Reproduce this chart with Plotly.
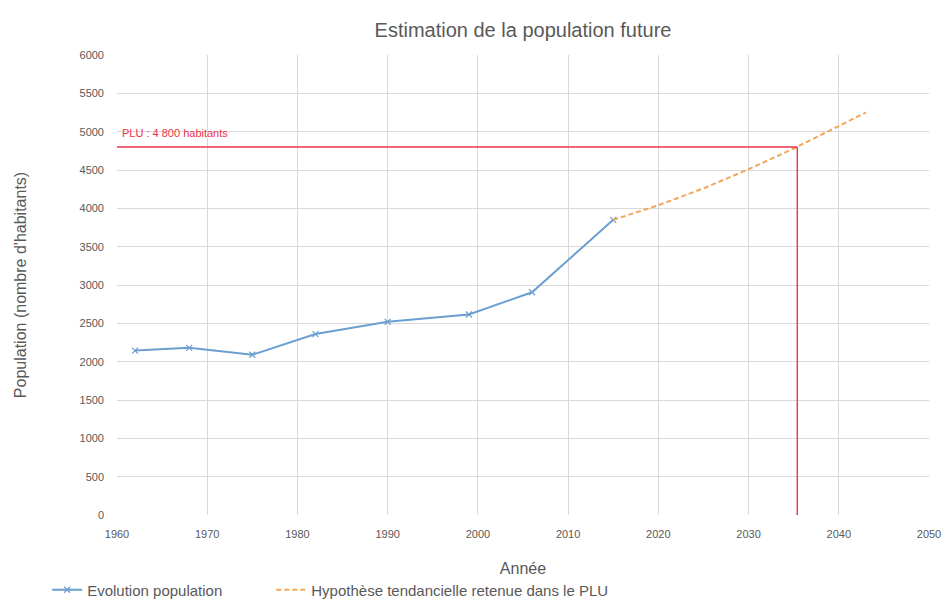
import plotly.graph_objects as go

years_obs = [1962, 1968, 1975, 1982, 1990, 1999, 2006, 2015]
pop_obs = [2145, 2180, 2090, 2360, 2520, 2615, 2905, 3850]

years_hyp = [2015, 2020, 2025, 2030, 2035, 2040, 2043]
pop_hyp = [3850, 4040, 4260, 4510, 4780, 5070, 5250]

plu_target = 4800
plu_year = 2035.4
x_ticks = list(range(1960, 2051, 10))
y_ticks = list(range(0, 6001, 500))

FONT = "Liberation Sans, Arial, sans-serif"
GREY = "#595959"
RED = "#e8334d"

FIG_W = 935
FIG_H = 593
PLOT_W = 812

fig = go.Figure()
fig.add_trace(go.Scatter(
    x=years_obs, y=pop_obs, mode="lines+markers", name="Evolution population",
    line=dict(color="#6b9fd0", width=2), legend="legend",
    marker=dict(symbol="x-thin", size=6, color="#6b9fd0", line=dict(width=1.2, color="#6b9fd0")),
))
fig.add_trace(go.Scatter(
    x=years_hyp, y=pop_hyp, mode="lines", name="Hypothèse tendancielle retenue dans le PLU",
    line=dict(color="#f2a65a", width=2, dash="5px,3px"), legend="legend2",
))
# PLU target lines
fig.add_trace(go.Scatter(
    x=[1960, plu_year], y=[plu_target, plu_target], mode="lines", showlegend=False,
    line=dict(color=RED, width=1.4), hoverinfo="skip",
))
fig.add_trace(go.Scatter(
    x=[plu_year, plu_year], y=[plu_target, 0], mode="lines", showlegend=False,
    line=dict(color=RED, width=1.4), hoverinfo="skip",
))
fig.add_annotation(
    x=1960, y=plu_target, xref="x", yref="y", text="PLU : 4 800 habitants",
    showarrow=False, xanchor="left", yanchor="bottom", xshift=3, yshift=6,
    font=dict(family=FONT, size=11, color=RED),
)

legend_style = dict(orientation="h", xref="paper", yref="paper", y=-0.163, yanchor="middle",
                    font=dict(size=15, color=GREY), itemwidth=30, bgcolor="rgba(0,0,0,0)")

fig.update_layout(
    width=FIG_W, height=FIG_H,
    margin=dict(l=109, r=FIG_W - PLOT_W - 109, t=47, b=FIG_H - 460 - 47, autoexpand=False),
    paper_bgcolor="white", plot_bgcolor="white",
    font=dict(family=FONT, color=GREY),
    title=dict(text="Estimation de la population future", xref="paper", x=0.5, xanchor="center",
               y=1 - 22 / FIG_H, yanchor="middle", font=dict(family=FONT, size=20, color=GREY)),
    xaxis=dict(range=[1960, 2050], tickvals=x_ticks, showgrid=True, gridcolor="#d9d9d9",
               gridwidth=1, zeroline=False, showline=False, ticks="", automargin=False,
               tickfont=dict(size=11, color=GREY), ticklabelstandoff=11,
               title=dict(text="Année", font=dict(size=16, color=GREY), standoff=23)),
    yaxis=dict(range=[0, 6000], tickvals=y_ticks, showgrid=True, gridcolor="#d9d9d9",
               gridwidth=1, zeroline=False, showline=False, ticks="", automargin=False,
               tickfont=dict(size=11, color=GREY), ticklabelstandoff=12,
               title=dict(text="Population (nombre d'habitants)", font=dict(size=16, color=GREY),
                          standoff=48)),
    legend=dict(x=-0.086, **legend_style),
    legend2=dict(x=0.190, **legend_style),
    showlegend=True,
)

fig.write_html("out.html")
